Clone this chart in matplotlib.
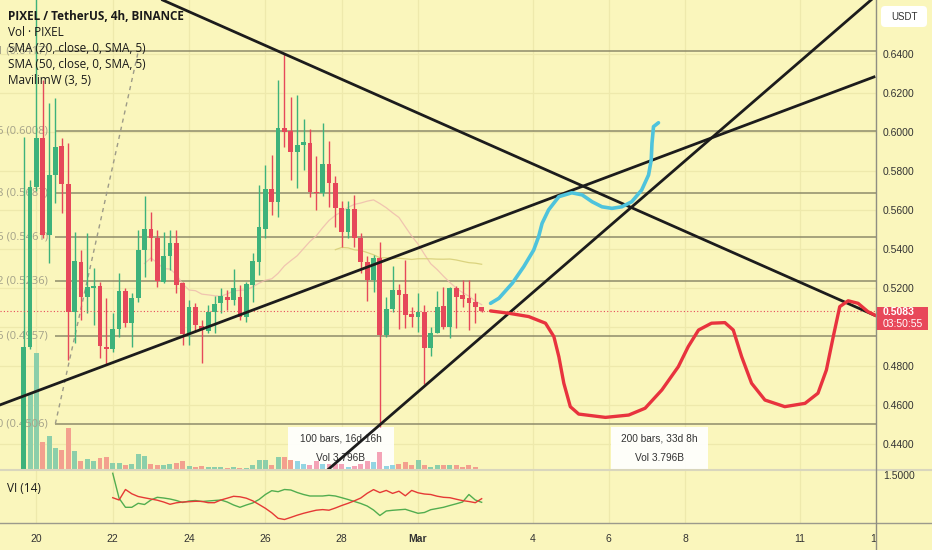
import numpy as np
import pandas as pd
import matplotlib
matplotlib.use('Agg')
import matplotlib.pyplot as plt
from matplotlib.patches import Rectangle, FancyBboxPatch
from matplotlib.lines import Line2D
from matplotlib.transforms import IdentityTransform

# 4h candles of PIXEL/USDT, first one 2024-02-19 16:00
opens = [0.4000, 0.4900, 0.5721, 0.5970, 0.5473, 0.5781, 0.5930, 0.5735, 0.5080, 0.5336,
         0.5157, 0.5203, 0.5212, 0.4900, 0.4887, 0.4991, 0.5188, 0.5020, 0.5149, 0.5394,
         0.5504, 0.5458, 0.5232, 0.5366, 0.5432, 0.5226, 0.4966, 0.5106, 0.5007, 0.4982,
         0.5080, 0.5123, 0.5157, 0.5140, 0.5157, 0.5051, 0.5217, 0.5334, 0.5504, 0.5711,
         0.5644, 0.6024, 0.6007, 0.5898, 0.5935, 0.5947, 0.5695, 0.5687, 0.5837, 0.5738,
         0.5610, 0.5487, 0.5605, 0.5456, 0.5336, 0.5243, 0.5354, 0.4961, 0.5092, 0.5191,
         0.5171, 0.5068, 0.5054, 0.5080, 0.4892, 0.4972, 0.5109, 0.5003, 0.5200, 0.5166,
         0.5149, 0.5131, 0.5106]
highs = [0.5978, 0.5756, 0.7200, 0.6269, 0.6150, 0.6174, 0.5970, 0.5944, 0.5490, 0.5397,
         0.5482, 0.5303, 0.5234, 0.5149, 0.5072, 0.5277, 0.5200, 0.5174, 0.5499, 0.5675,
         0.5593, 0.5499, 0.5490, 0.5499, 0.5499, 0.5234, 0.5140, 0.5123, 0.5037, 0.5114,
         0.5161, 0.5200, 0.5191, 0.5297, 0.5217, 0.5234, 0.5380, 0.5730, 0.5832, 0.5884,
         0.6269, 0.6408, 0.6183, 0.6191, 0.6067, 0.6016, 0.5877, 0.6047, 0.5955, 0.5776,
         0.5648, 0.5648, 0.5676, 0.5482, 0.5366, 0.5371, 0.5436, 0.5154, 0.5315, 0.5220,
         0.5345, 0.5106, 0.5174, 0.5114, 0.5003, 0.5188, 0.5205, 0.5208, 0.5212, 0.5243,
         0.5243, 0.5174, 0.5106]
lows = [0.3900, 0.4890, 0.5700, 0.5460, 0.5328, 0.5637, 0.5585, 0.4832, 0.4922, 0.5037,
        0.5072, 0.5012, 0.4841, 0.4806, 0.4874, 0.4952, 0.5003, 0.4900, 0.5131, 0.5260,
        0.5340, 0.5209, 0.5226, 0.5294, 0.5174, 0.4909, 0.4909, 0.4977, 0.4815, 0.4969,
        0.4969, 0.5072, 0.5089, 0.5114, 0.5037, 0.5029, 0.5131, 0.5268, 0.5458, 0.5577,
        0.5566, 0.5926, 0.5756, 0.5713, 0.5806, 0.5670, 0.5601, 0.5675, 0.5618, 0.5516,
        0.5413, 0.5458, 0.5413, 0.5277, 0.5136, 0.5180, 0.4490, 0.4952, 0.5080, 0.4990,
        0.4995, 0.5003, 0.4977, 0.4710, 0.4852, 0.4969, 0.4990, 0.4944, 0.4994, 0.5106,
        0.4986, 0.5020, 0.5080]
closes = [0.4900, 0.5721, 0.5970, 0.5473, 0.5781, 0.5926, 0.5735, 0.5080, 0.5342, 0.5157,
          0.5208, 0.5212, 0.4904, 0.4889, 0.4991, 0.5188, 0.5020, 0.5152, 0.5397, 0.5504,
          0.5458, 0.5235, 0.5366, 0.5432, 0.5217, 0.4966, 0.5106, 0.5012, 0.4990, 0.5080,
          0.5119, 0.5162, 0.5140, 0.5203, 0.5051, 0.5222, 0.5342, 0.5516, 0.5711, 0.5644,
          0.6024, 0.6003, 0.5898, 0.5935, 0.5952, 0.5692, 0.5687, 0.5837, 0.5738, 0.5610,
          0.5487, 0.5605, 0.5456, 0.5336, 0.5243, 0.5354, 0.4961, 0.5092, 0.5191, 0.5166,
          0.5063, 0.5054, 0.5080, 0.4892, 0.4969, 0.5106, 0.5003, 0.5200, 0.5157, 0.5144,
          0.5126, 0.5106, 0.5083]
# volume in millions
volumes = [240, 154, 234, 57, 68, 45, 40, 85, 39, 19,
           23, 19, 25, 27, 15, 15, 11, 13, 33, 29,
           13, 10, 11, 12, 15, 19, 9, 7, 9, 7,
           7, 7, 5, 7, 5, 5, 11, 21, 20, 11,
           27, 27, 21, 19, 13, 11, 19, 13, 13, 12,
           13, 7, 9, 13, 19, 17, 36, 9, 10, 13,
           17, 10, 20, 10, 7, 10, 11, 11, 10, 7,
           10, 7, 1]
# vortex indicator, starts at candle 15
vi_plus = [1.534, 1.034, 0.854, 0.854, 0.934, 0.910, 1.000, 1.054, 1.040, 1.020,
           0.990, 0.950, 0.980, 0.990, 0.970, 0.980, 0.990, 1.000, 0.960, 0.900,
           0.854, 0.900, 0.940, 1.010, 1.110, 1.186, 1.166, 1.210, 1.200, 1.150,
           1.110, 1.080, 1.080, 1.080, 1.094, 1.080, 1.046, 1.010, 0.970, 0.930,
           0.880, 0.800, 0.690, 0.780, 0.794, 0.804, 0.814, 0.774, 0.734, 0.750,
           0.806, 0.830, 0.854, 0.890, 0.924, 0.960, 1.110, 1.000, 0.954]
vi_minus = [1.046, 1.000, 1.210, 1.124, 1.070, 1.044, 1.020, 0.996, 0.960, 0.914,
            0.944, 0.960, 0.966, 0.974, 0.972, 0.946, 0.946, 1.000, 1.036, 1.074,
            1.064, 1.036, 0.984, 0.910, 0.834, 0.744, 0.634, 0.610, 0.652, 0.696,
            0.734, 0.766, 0.796, 0.808, 0.796, 0.840, 0.890, 0.934, 0.984, 1.040,
            1.134, 1.208, 1.148, 1.192, 1.132, 1.176, 1.084, 1.192, 1.144, 1.120,
            1.110, 1.076, 1.054, 1.046, 1.016, 0.988, 0.970, 0.946, 1.026]
vi_first = 15

# fib retracement
fib_levels = [1, 0.786, 0.618, 0.5, 0.382, 0.236, 0]
fib_prices = [0.6417, 0.6008, 0.5687, 0.5461, 0.5236, 0.4957, 0.4506]

# drawings, x in days from Feb 20 00:00
fib_trend_days = [0.497, 2.667]
fib_trend_prices = [0.4506, 0.6413]
down_line_days = [3.307, 21.948]
down_line_prices = [0.66785, 0.5063]
up_line_days = [-0.954, 21.948]
up_line_prices = [0.4602, 0.6284]
steep_line_days = [7.629, 21.87]
steep_line_prices = [0.4268, 0.66785]

blue_days = [11.90, 12.12, 12.47, 12.77, 13.03, 13.16, 13.25, 13.42, 13.69, 14.03, 14.30,
             14.56, 14.82, 15.08, 15.34, 15.60, 15.86, 16.04, 16.11, 16.13, 16.17, 16.30]
blue_prices = [0.5123, 0.5149, 0.5226, 0.5311, 0.5396, 0.5465, 0.5533, 0.5602, 0.5670,
               0.5690, 0.5679, 0.5644, 0.5618, 0.5610, 0.5618, 0.5644, 0.5704, 0.5781,
               0.5858, 0.5944, 0.6029, 0.6049]
red_days = [11.90, 12.38, 12.90, 13.34, 13.56, 13.69, 13.82, 13.99, 14.21, 14.91, 15.52,
            15.95, 16.39, 16.82, 17.08, 17.35, 17.69, 18.04, 18.26, 18.48, 18.74, 19.09,
            19.61, 20.14, 20.48, 20.70, 20.88, 21.05, 21.27, 21.53, 21.79, 22.05]
red_prices = [0.5084, 0.5072, 0.5055, 0.5021, 0.4952, 0.4849, 0.4713, 0.4593, 0.4555,
              0.4538, 0.4550, 0.4585, 0.4679, 0.4798, 0.4901, 0.4986, 0.5021, 0.5024,
              0.4986, 0.4849, 0.4713, 0.4627, 0.4593, 0.4610, 0.4662, 0.4781, 0.4952,
              0.5106, 0.5136, 0.5123, 0.5080, 0.5055]

price_ticks = [0.64, 0.62, 0.60, 0.58, 0.56, 0.54, 0.52, 0.48, 0.46, 0.44]
grid_prices = [0.64, 0.62, 0.60, 0.58, 0.56, 0.54, 0.52, 0.50, 0.48, 0.46, 0.44]
date_ticks = [0, 2, 4, 6, 8, 10, 13, 15, 17, 20, 22]
date_labels = ['20', '22', '24', '26', '28', 'Mar', '4', '6', '8', '11', '13']
last_price = 0.5083

# date range boxes: (start day, end day, text)
range_boxes = [(6.58, 9.37, '100 bars, 16d 16h', 'Vol 3.796B'),
               (15.05, 17.61, '200 bars, 33d 8h', 'Vol 3.796B')]
highlight = (44, 59)

bg = '#faf6bc'
grid_c = '#eee9ac'
up_c, down_c = '#3db27b', '#e6485a'

df = pd.DataFrame({'open': opens, 'high': highs, 'low': lows, 'close': closes, 'vol': volumes})
df['time'] = pd.date_range('2024-02-19 16:00', periods=len(df), freq='4h')
df['x'] = (df['time'] - pd.Timestamp('2024-02-20')) / pd.Timedelta('1D')
df['up'] = df['close'] >= df['open']
sma20 = df['close'].rolling(20).mean()
sma50 = df['close'].rolling(50).mean()

W, H = 932, 550
plt.rcParams['font.family'] = ['Open Sans', 'DejaVu Sans']
fig = plt.figure(figsize=(W / 100, H / 100), dpi=100, facecolor=bg)


def rect(x0, y0, x1, y1):
    return [x0 / W, 1 - y1 / H, (x1 - x0) / W, (y1 - y0) / H]


ax_vol = fig.add_axes(rect(0, 0, 876, 470))
ax = fig.add_axes(rect(0, 0, 876, 470), sharex=ax_vol)
ax_vi = fig.add_axes(rect(0, 470, 876, 523), sharex=ax_vol)
ax_vol.set_zorder(0)
ax.set_zorder(1)
ax.patch.set_visible(False)
for a in (ax_vol, ax, ax_vi):
    a.set_facecolor(bg)
    for s in a.spines.values():
        s.set_visible(False)
ax.set_xlim(-0.954, 21.948)
ax.set_ylim(0.42682, 0.66785)
ax_vol.set_ylim(0, 940)
ax_vi.set_ylim(0.54, 1.6)

# grid (under the volume bars)
for d in date_ticks:
    ax_vol.axvline(d, color=grid_c, lw=0.9, zorder=0)
    ax_vi.axvline(d, color=grid_c, lw=0.9, zorder=0)
ax_vol.hlines(grid_prices, -2, 24, transform=ax.transData, color=grid_c, lw=0.9, zorder=0)

# volume
vol_cols = []
for i, r in df.iterrows():
    n = i + 1
    if highlight[0] <= n <= highlight[1]:
        vol_cols.append('#93d5e3' if r['up'] else '#f4a3b6')
    else:
        vol_cols.append('#8ccfaa' if r['up'] else '#f3a08e')
ax_vol.bar(df['x'], df['vol'], width=0.13, color=vol_cols, zorder=2)

for d0, d1, t1, t2 in range_boxes:
    ax_vol.add_patch(Rectangle((d0, 0.42682), d1 - d0, 0.44888 - 0.42682,
                               transform=ax.transData, facecolor='white', alpha=0.92,
                               edgecolor='none', zorder=1.5))
    ax.text((d0 + d1) / 2, 0.44272, t1, ha='center', va='center', fontsize=7.3,
            family='Liberation Sans', color='#333333', zorder=3)
    ax.text((d0 + d1) / 2, 0.43297, t2, ha='center', va='center', fontsize=7.3,
            family='Liberation Sans', color='#333333', zorder=3)

# fib
ax.hlines(fib_prices, fib_trend_days[0], 23, color='#8e8b6a', lw=1.1, zorder=1)
for lvl, p in zip(fib_levels, fib_prices):
    ax.text(0.30, p, f'{lvl:g} ({p:.4f})', ha='right', va='center', fontsize=8,
            color='#a3a189', zorder=1)
ax.plot(fib_trend_days, fib_trend_prices, color='#9d9b88', lw=1, ls=(0, (3, 3)), zorder=1)

# moving averages
ax.plot(df['x'], sma20, color='#eeb8ad', lw=0.9, alpha=0.8, zorder=1.5)
ax.plot(df['x'], sma50, color='#d5cd74', lw=0.9, alpha=0.85, zorder=1.5)

# candles
cols = np.where(df['up'], up_c, down_c)
ax.vlines(df['x'], df['low'], df['high'], colors=cols, lw=1, zorder=2)
body_lo = np.minimum(df['open'], df['close'])
body_h = np.maximum(np.abs(df['close'] - df['open']), 0.0005)
ax.bar(df['x'], body_h, bottom=body_lo, width=0.125, color=cols, zorder=2.2)

ax.axhline(last_price, color='#e6485a', lw=0.8, ls=(0, (1, 2)), zorder=2)

# drawings
for dx, dy in ((down_line_days, down_line_prices), (up_line_days, up_line_prices),
               (steep_line_days, steep_line_prices)):
    ax.plot(dx, dy, color='#1c1c1c', lw=2, zorder=4)
ax.plot(blue_days, blue_prices, color='#4ec3dc', lw=2.6, solid_capstyle='round',
        solid_joinstyle='round', zorder=4)
ax.plot(red_days, red_prices, color='#e8333e', lw=2.4, solid_capstyle='round',
        solid_joinstyle='round', zorder=4)

# vortex
vx = df['x'].iloc[vi_first - 1:]
ax_vi.plot(vx, vi_plus, color='#52ad4f', lw=1)
ax_vi.plot(vx, vi_minus, color='#e53935', lw=1)

# axes ticks
ax_vol.tick_params(left=False, labelleft=False, bottom=False, labelbottom=False)
ax.yaxis.tick_right()
ax.set_yticks(price_ticks)
ax.set_yticklabels([f'{p:.4f}' for p in price_ticks])
ax.tick_params(axis='y', length=0, pad=5, labelsize=7.5, labelcolor='#333333')
ax.tick_params(axis='x', bottom=False, labelbottom=False)
for lab in ax.get_yticklabels():
    lab.set_family('Liberation Sans')
ax_vi.yaxis.tick_right()
ax_vi.set_yticks([1.5])
ax_vi.set_yticklabels(['1.5000'])
ax_vi.tick_params(axis='y', length=0, pad=5, labelsize=7.5, labelcolor='#333333')
ax_vi.set_xticks(date_ticks)
ax_vi.set_xticklabels(date_labels)
ax_vi.tick_params(axis='x', length=0, pad=8, labelsize=7.5, labelcolor='#333333')
for lab in ax_vi.get_yticklabels() + ax_vi.get_xticklabels():
    lab.set_family('Liberation Sans')
ax_vi.get_xticklabels()[5].set_fontweight('bold')

# legend
fig.text(8 / W, 1 - 16 / H, 'PIXEL / TetherUS, 4h, BINANCE', fontsize=8.5,
         fontweight='bold', color='#1a1a1a', va='center', zorder=10)
for k, t in enumerate(['Vol · PIXEL', 'SMA (20, close, 0, SMA, 5)',
                       'SMA (50, close, 0, SMA, 5)', 'MavilimW (3, 5)']):
    fig.text(8 / W, 1 - (32.3 + 16 * k) / H, t, fontsize=8.5, color='#1a1a1a',
             va='center', zorder=10)
fig.text(7 / W, 1 - 488 / H, 'VI (14)', fontsize=8.5, color='#1a1a1a', va='center', zorder=10)

# right scale decorations (pixel coords, origin bottom-left)
idt = IdentityTransform()
fig.add_artist(Rectangle((876.5, 0), 60, 27, transform=idt, facecolor=bg, edgecolor='none', zorder=5))
fig.add_artist(Line2D([0, W], [H - 470, H - 470], transform=idt, color='#d9d6bd', lw=1.5, zorder=6))
fig.add_artist(Line2D([0, W], [H - 523, H - 523], transform=idt, color='#9b9a8c', lw=1, zorder=6))
fig.add_artist(Line2D([876, 876], [0, H], transform=idt, color='#8f8e82', lw=1, zorder=6))
fig.add_artist(FancyBboxPatch((881, H - 27), 46, 21, boxstyle='round,pad=0,rounding_size=4',
                              transform=idt, facecolor='white', edgecolor='none', zorder=7))
fig.text(904 / W, 1 - 16.5 / H, 'USDT', fontsize=7, color='#333333', ha='center',
         va='center', family='Liberation Sans', zorder=8)
fig.canvas.draw()
py = ax.transData.transform((0, last_price))[1]
fig.add_artist(Rectangle((876.5, py - 19), 51, 23.5, transform=idt, facecolor='#e8485a',
                         edgecolor='none', zorder=7))
fig.text(883 / W, (py - 1.2) / H, f'{last_price:.4f}', fontsize=7.5, color='white',
         va='center', family='Liberation Sans', fontweight='bold', zorder=8)
fig.text(883 / W, (py - 12.8) / H, '03:50:55', fontsize=7.5, color='white',
         va='center', family='Liberation Sans', zorder=8)

fig.savefig('out.png', dpi=100, facecolor=bg)
